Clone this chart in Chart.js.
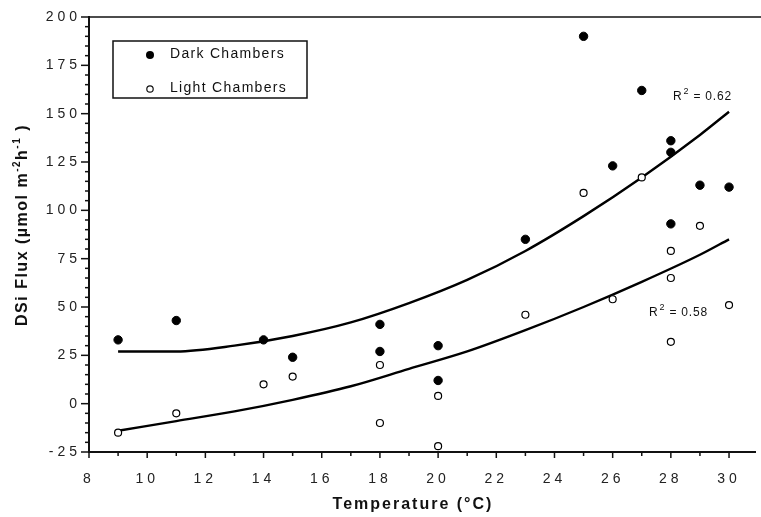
<!DOCTYPE html>
<html><head><meta charset="utf-8">
<script src="https://cdn.jsdelivr.net/npm/chart.js@4"></script>
<style>html,body{margin:0;background:#fff}#wrap{width:761px;height:517px}</style>
</head><body><div id="wrap"><canvas id="c"></canvas></div>
<script>
// values
const darkT=[9,11,14,15,18,18,20,20,23,25,26,27,28,28,28,29,30]
const darkFlux=[33,43,33,24,41,27,30,12,85,190,123,162,136,130,93,113,112]
const lightT=[9,11,14,15,18,18,20,20,23,25,26,27,28,28,28,29,30]
const lightFlux=[-15,-5,10,14,20,-10,4,-22,46,109,54,117,79,65,32,92,51]
const fitT=[9,11,13,15,17,19,21,23,25,27,29,30]
const darkFit=[27,27,30,35,42,52,64,79,97,117,139,151]
const lightFit=[-14,-9,-4,2,9,18,27,38,50,63,77,85]
const xTicks=[8,10,12,14,16,18,20,22,24,26,28,30]
const yTicks=[-25,0,25,50,75,100,125,150,175,200]
const seriesNames=["Dark Chambers","Light Chambers"]
const r2=["0.62","0.58"]

const FONT="'Liberation Sans', Arial, sans-serif"
const pts=(xs,ys)=>xs.map((x,i)=>({x,y:ys[i]}))

const deco={
  id:"deco",
  beforeDraw(c){c.ctx.letterSpacing="4px"},
  afterDraw(c){
    const ctx=c.ctx,a=c.chartArea,X=c.scales.x,Y=c.scales.y
    ctx.save()
    ctx.letterSpacing="0px"
    ctx.strokeStyle="#111"
    // top frame line
    ctx.lineWidth=1.5
    ctx.beginPath();ctx.moveTo(a.left,a.top);ctx.lineTo(761,a.top);ctx.stroke()
    // tick marks
    for(let v=8;v<=30;v++){
      const px=X.getPixelForValue(v),len=v%2?4:6
      ctx.beginPath();ctx.moveTo(px,a.bottom);ctx.lineTo(px,a.bottom+len);ctx.stroke()
    }
    for(let v=-25;v<=200;v+=5){
      const py=Y.getPixelForValue(v),len=v%25?4:8
      ctx.beginPath();ctx.moveTo(a.left,py);ctx.lineTo(a.left-len,py);ctx.stroke()
    }
    // legend box
    ctx.strokeRect(113,41,194,57)
    ctx.fillStyle="#000"
    ctx.beginPath();ctx.arc(150,55,4,0,Math.PI*2);ctx.fill()
    ctx.lineWidth=1.2
    ctx.beginPath();ctx.arc(150,89,3.2,0,Math.PI*2);ctx.stroke()
    ctx.font="14px "+FONT
    ctx.letterSpacing="1.3px"
    ctx.textBaseline="middle";ctx.textAlign="left"
    ctx.fillStyle="#111"
    ctx.fillText(seriesNames[0],170,54)
    ctx.fillText(seriesNames[1],170,88)
    // R² labels
    const r2Pos=[[673,100],[649,316]]
    r2.forEach((r,i)=>{
      let [x,y]=r2Pos[i]
      ctx.textBaseline="alphabetic"
      ctx.letterSpacing="0.8px"
      ctx.font="12px "+FONT
      ctx.fillText("R",x,y);x+=ctx.measureText("R").width
      ctx.font="9px "+FONT
      ctx.fillText("2",x+1,y-6);x+=ctx.measureText("2").width+1
      ctx.font="12px "+FONT
      ctx.fillText(" = "+r,x,y)
    })
    // axis titles
    ctx.font="bold 16px "+FONT
    ctx.letterSpacing="2px"
    ctx.textAlign="center";ctx.textBaseline="middle"
    ctx.fillText("Temperature (\u00B0C)",413,505)
    ctx.letterSpacing="1.5px"
    ctx.save()
    ctx.translate(23,225);ctx.rotate(-Math.PI/2)
    const parts=[["DSi Flux (\u00B5mol m",0],["-2",1],["h",0],["-1",1],[" )",0]]
    let w=0
    parts.forEach(p=>{ctx.font=(p[1]?"bold 10px ":"bold 16px ")+FONT;w+=ctx.measureText(p[0]).width})
    let x=-w/2
    ctx.textAlign="left"
    parts.forEach(p=>{
      ctx.font=(p[1]?"bold 10px ":"bold 16px ")+FONT
      ctx.fillText(p[0],x,p[1]?-6:0)
      x+=ctx.measureText(p[0]).width
    })
    ctx.restore()
    ctx.restore()
    ctx.letterSpacing="0px"
  }
}

new Chart(document.getElementById("c"),{
  type:"scatter",
  data:{datasets:[
    {label:seriesNames[0],data:pts(darkT,darkFlux),pointRadius:4.2,pointBackgroundColor:"#000",pointBorderColor:"#000",pointBorderWidth:1},
    {label:seriesNames[1],data:pts(lightT,lightFlux),pointRadius:3.5,pointBackgroundColor:"#fff",pointBorderColor:"#000",pointBorderWidth:1.2},
    {label:"dark fit",data:pts(fitT,darkFit),showLine:true,pointRadius:0,borderColor:"#000",borderWidth:2.4,cubicInterpolationMode:"monotone"},
    {label:"light fit",data:pts(fitT,lightFit),showLine:true,pointRadius:0,borderColor:"#000",borderWidth:2.4,cubicInterpolationMode:"monotone"}
  ]},
  options:{
    responsive:true,maintainAspectRatio:false,animation:false,
    layout:{padding:{top:17,left:0,right:0,bottom:0}},
    plugins:{legend:{display:false},tooltip:{enabled:false}},
    scales:{
      x:{type:"linear",min:8,max:30.92,
        afterBuildTicks:s=>{s.ticks=xTicks.map(v=>({value:v}))},
        afterFit:s=>{s.height=65},
        grid:{display:false,drawTicks:false},
        border:{display:true,color:"#111",width:2},
        ticks:{font:{family:FONT,size:14},color:"#222",padding:19,maxRotation:0,autoSkip:false}
      },
      y:{type:"linear",min:-25,max:200,
        afterBuildTicks:s=>{s.ticks=yTicks.map(v=>({value:v}))},
        afterFit:s=>{s.width=89},
        grid:{display:false,drawTicks:false},
        border:{display:true,color:"#111",width:2},
        ticks:{font:{family:FONT,size:14},color:"#222",padding:8,autoSkip:false}
      }
    }
  },
  plugins:[deco]
})
</script>
</body></html>
